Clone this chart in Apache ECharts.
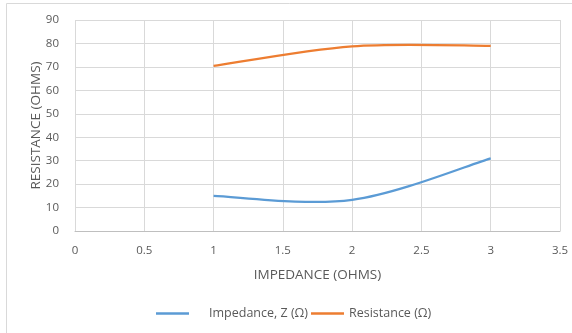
<!DOCTYPE html>
<html><head><meta charset="utf-8">
<script src="https://cdn.jsdelivr.net/npm/echarts@6/dist/echarts.min.js"></script>
<style>html,body{margin:0;padding:0;background:#fff}#c{width:572px;height:333px}</style>
</head><body><div id="c"></div>
<script>
var xValues = [1, 2, 3];
var impedance = [15, 13.3, 31];
var resistance = [70.4, 78.8, 79];
var seriesNames = ['Impedance, Z (Ω)', 'Resistance (Ω)'];
var seriesColors = ['#5B9BD5', '#ED7D31'];
var xTitle = 'IMPEDANCE (OHMS)';
var yTitle = 'RESISTANCE (OHMS)';

function pairs(xs, ys){ return xs.map(function(x,i){ return [x, ys[i]]; }); }

// Excel-style smoothed line (Catmull-Rom -> cubic Bezier), mapped through the chart's axes
function smoothRender(xs, ys, color){
  return function(params, api){
    if (params.dataIndex !== 0) return null;
    var n = xs.length;
    var P = [];
    for (var i = 0; i < n; i++) P.push(api.coord([xs[i], ys[i]]));
    var d = 'M' + P[0][0] + ' ' + P[0][1];
    for (var i = 0; i < n - 1; i++) {
      var p0 = P[Math.max(i - 1, 0)], p1 = P[i], p2 = P[i + 1], p3 = P[Math.min(i + 2, n - 1)];
      var c1 = [p1[0] + (p2[0] - p0[0]) / 6, p1[1] + (p2[1] - p0[1]) / 6];
      var c2 = [p2[0] - (p3[0] - p1[0]) / 6, p2[1] - (p3[1] - p1[1]) / 6];
      d += ' C' + c1[0] + ' ' + c1[1] + ' ' + c2[0] + ' ' + c2[1] + ' ' + p2[0] + ' ' + p2[1];
    }
    return {type: 'path', shape: {pathData: d}, style: {fill: 'none', stroke: color, lineWidth: 2.25}};
  };
}

var chart = echarts.init(document.getElementById('c'), null, {renderer:'canvas'});
var font = 'Open Sans';
var grey = '#595959';
chart.setOption({
  animation: false,
  textStyle: {fontFamily: font},
  graphic: [{type:'rect', shape:{x:6.5, y:3.5, width:600, height:400}, style:{fill:'none', stroke:'#d9d9d9', lineWidth:1}}],
  grid: {left: 75, right: 12, top: 20, bottom: 102},
  xAxis: {
    type: 'value', min: 0, max: 3.5, interval: 0.5,
    name: xTitle, nameLocation: 'middle', nameGap: 37, nameMoveOverlap: false,
    nameTextStyle: {color: grey, fontSize: 13.5, fontFamily: font},
    axisLine: {show: true, lineStyle: {color: '#bfbfbf'}},
    axisTick: {show: false},
    axisLabel: {color: grey, fontSize: 11.5, margin: 14, fontFamily: font},
    splitLine: {show: true, lineStyle: {color: '#d9d9d9'}}
  },
  yAxis: {
    type: 'value', min: 0, max: 90, interval: 10,
    name: yTitle, nameLocation: 'middle', nameGap: 32, nameMoveOverlap: false,
    nameTextStyle: {color: grey, fontSize: 13.5, fontFamily: font},
    axisLine: {show: false},
    axisTick: {show: false},
    axisLabel: {color: grey, fontSize: 11.5, margin: 16, fontFamily: font},
    splitLine: {show: true, lineStyle: {color: '#d9d9d9'}}
  },
  legend: {
    left: 151, top: 302, itemWidth: 33, itemHeight: 2.5, itemGap: 3, icon: 'rect',
    textStyle: {color: grey, fontSize: 12.5, fontFamily: font},
    data: [
      {name: seriesNames[0], textStyle: {padding: [0, 0, 0, 15]}},
      {name: seriesNames[1]}
    ]
  },
  series: [
    {name: seriesNames[0], type: 'custom', data: pairs(xValues, impedance),
     renderItem: smoothRender(xValues, impedance, seriesColors[0]), itemStyle: {color: seriesColors[0]}},
    {name: seriesNames[1], type: 'custom', data: pairs(xValues, resistance),
     renderItem: smoothRender(xValues, resistance, seriesColors[1]), itemStyle: {color: seriesColors[1]}}
  ]
});
</script></body></html>
